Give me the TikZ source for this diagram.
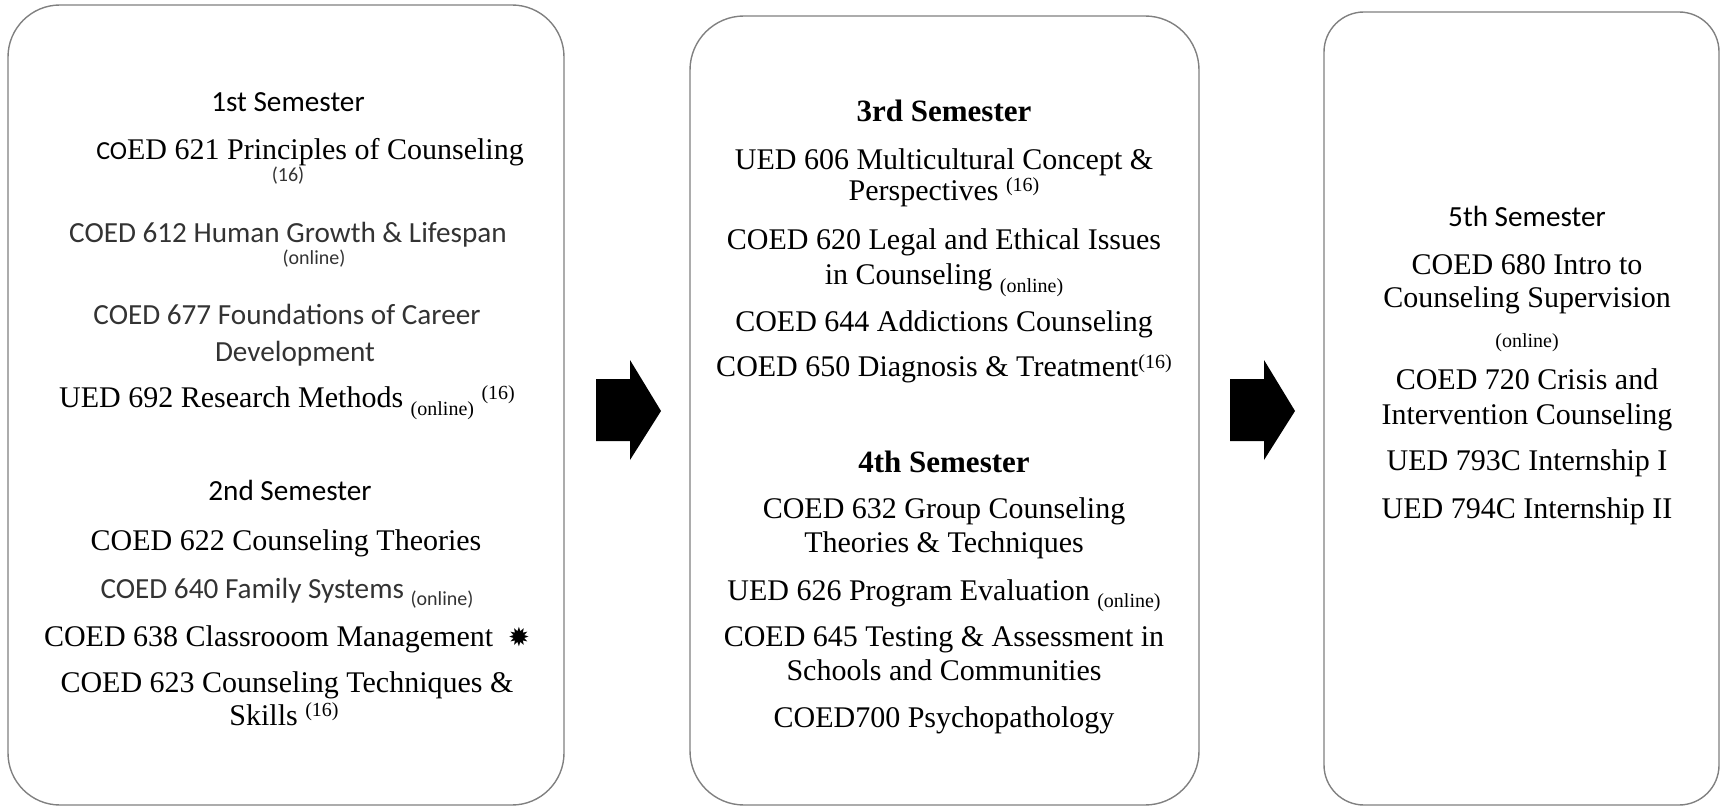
\documentclass[tikz,border=0pt]{standalone}
\usepackage{fontspec}
\setmainfont{Liberation Serif}
\newfontfamily\sansf{Carlito}
\newfontfamily\symf{DejaVu Sans}
\usetikzlibrary{fit}
\newcommand\supx[1]{\raisebox{0.3em}{\fontsize{10}{10}\selectfont #1}}
\newcommand\subx[1]{\raisebox{-0.25em}{\fontsize{10}{10}\selectfont #1}}
\tikzset{
  box/.style={draw=black!50, line width=0.7pt, inner sep=0pt},
  ln/.style={anchor=base, inner sep=0pt, text height=11pt, text depth=3pt, font=\fontsize{15}{17}\selectfont},
  hd/.style={ln, font=\bfseries\fontsize{15.5}{17}\selectfont},
  sl/.style={anchor=base, inner sep=0pt, text height=11pt, text depth=3pt, text=black!80, font=\sansf\fontsize{14.6}{17}\selectfont},
  sh/.style={sl, text=black},
  sm/.style={anchor=base, inner sep=0pt, text=black!80, font=\sansf\fontsize{10}{11}\selectfont},
  blockarrow/.style={fill=black, draw=none},
}
\begin{document}
\begin{tikzpicture}[x=0.5pt, y=-0.5pt]
\useasboundingbox (0,0) rectangle (1722,807);
% boxes
\node[box, rounded corners=26pt, fit={(8,5) (564,805)}] (b1) {};
\node[box, rounded corners=27pt, fit={(690,16) (1199,805)}] (b2) {};
\node[box, rounded corners=20pt, fit={(1324,12) (1719,805)}] (b3) {};
% arrows
\fill[blockarrow] (596,379) -- (630,379) -- (630,360) -- (661,411) -- (630,460) -- (630,441) -- (596,441) -- cycle;
\fill[blockarrow] (1230,379) -- (1264,379) -- (1264,360) -- (1295,411) -- (1264,460) -- (1264,441) -- (1230,441) -- cycle;
% box 1
\node[sh] (s1) at (288,112) {1st Semester};
\node[ln] (c621) at (310,160) {{\sansf\fontsize{13}{15}\selectfont CO}ED 621 Principles of Counseling};
\node[sm] (c621b) at (288,182) {(16)};
\node[sl] (c612) at (288,243) {COED 612 Human Growth \& Lifespan};
\node[sm] (c612b) at (314,265) {(online)};
\node[sl] (c677) at (287,325) {COED 677 Foundations of Career};
\node[sl] (c677b) at (295,361) {Development};
\node[ln] (u692) at (287,408) {UED 692 Research Methods \subx{(online)} \supx{(16)}};
\node[sh] (s2) at (290,500) {2nd Semester};
\node[ln] (c622) at (286,550) {COED 622 Counseling Theories};
\node[sl] (c640) at (287,598) {COED 640 Family Systems \subx{(online)}};
\node[ln] (c638) at (287,646) {COED 638 Classrooom Management\ \ {\symf\fontsize{13}{13}\selectfont ✹}};
\node[ln] (c623) at (287,692) {COED 623 Counseling Techniques \&};
\node[ln] (c623b) at (284,725) {Skills \supx{(16)}};
% box 2
\node[hd] (s3) at (944,122) {3rd Semester};
\node[ln] (u606) at (944,170) {UED 606 Multicultural Concept \&};
\node[ln] (u606b) at (944,201) {Perspectives \supx{(16)}};
\node[ln] (c620) at (944,250) {COED 620 Legal and Ethical Issues};
\node[ln] (c620b) at (944,285) {in Counseling \subx{(online)}};
\node[ln] (c644) at (944,332) {COED 644 Addictions Counseling};
\node[ln] (c650) at (944,377) {COED 650 Diagnosis \& Treatment\supx{(16)}};
\node[hd] (s4) at (944,472) {4th Semester};
\node[ln] (c632) at (944,518) {COED 632 Group Counseling};
\node[ln] (c632b) at (944,552) {Theories \& Techniques};
\node[ln] (u626) at (944,600) {UED 626 Program Evaluation \subx{(online)}};
\node[ln] (c645) at (944,646) {COED 645 Testing \& Assessment in};
\node[ln] (c645b) at (944,680) {Schools and Communities};
\node[ln] (c700) at (944,727) {COED700 Psychopathology};
% box 3
\node[sh] (s5) at (1527,227) {5th Semester};
\node[ln] (c680) at (1527,275) {COED 680 Intro to};
\node[ln] (c680b) at (1527,307) {Counseling Supervision};
\node[ln, font=\fontsize{10}{11}\selectfont] (c680c) at (1527,348) {(online)};
\node[ln] (c720) at (1527,389) {COED 720 Crisis and};
\node[ln] (c720b) at (1527,424) {Intervention Counseling};
\node[ln] (u793) at (1527,470) {UED 793C Internship I};
\node[ln] (u794) at (1527,518) {UED 794C Internship II};
\end{tikzpicture}
\end{document}
